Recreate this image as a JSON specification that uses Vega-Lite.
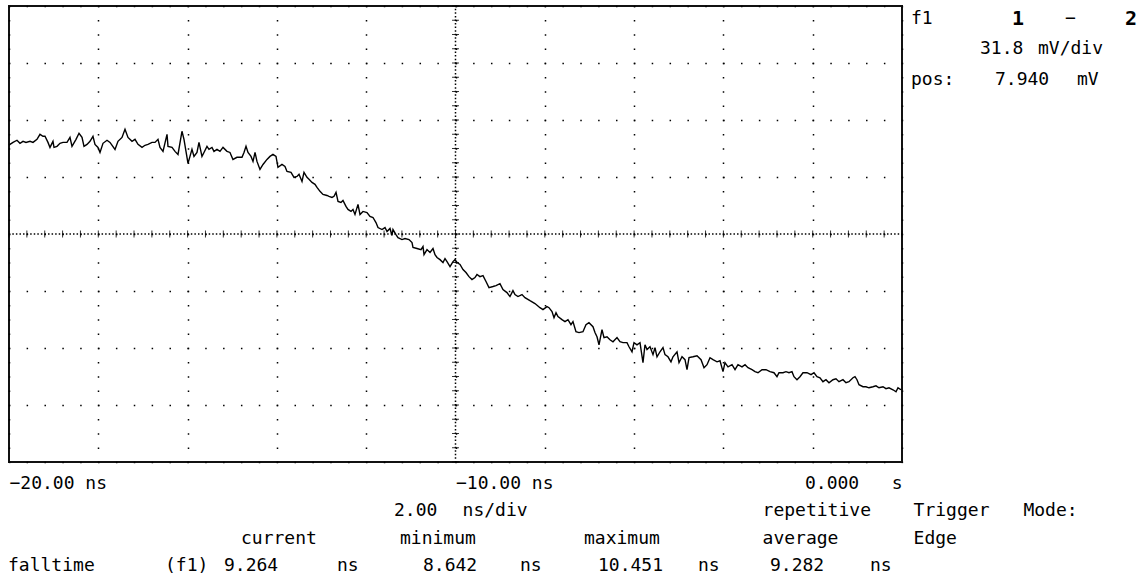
{
  "$schema": "https://vega.github.io/schema/vega-lite/v6.json",
  "width": 893,
  "height": 456,
  "autosize": {"type": "none"},
  "padding": {"left": 9, "top": 6, "right": 241, "bottom": 117},
  "background": "white",
  "config": {"view": {"stroke": "#111", "strokeWidth": 2}},
  "datasets": {
    "trace": [
      {"t": -20.0, "v": 49.5}, {"t": -19.978, "v": 50.0}, {"t": -19.91, "v": 51.1}, {"t": -19.821, "v": 52.3}, {"t": -19.754, "v": 50.6}, {"t": -19.686, "v": 51.7}, {"t": -19.619, "v": 51.1}, {"t": -19.53, "v": 51.7}, {"t": -19.462, "v": 51.1}, {"t": -19.373, "v": 52.8}, {"t": -19.306, "v": 55.6}, {"t": -19.239, "v": 54.5}, {"t": -19.194, "v": 54.5}, {"t": -19.127, "v": 51.1}, {"t": -19.082, "v": 48.3}, {"t": -19.015, "v": 51.7}, {"t": -18.992, "v": 48.3}, {"t": -18.925, "v": 48.9}, {"t": -18.858, "v": 50.6}, {"t": -18.791, "v": 51.1}, {"t": -18.701, "v": 51.1}, {"t": -18.634, "v": 53.9}, {"t": -18.589, "v": 48.9}, {"t": -18.499, "v": 52.8}, {"t": -18.432, "v": 56.2}, {"t": -18.365, "v": 53.9}, {"t": -18.32, "v": 48.9}, {"t": -18.253, "v": 50.0}, {"t": -18.186, "v": 51.7}, {"t": -18.119, "v": 54.5}, {"t": -18.074, "v": 50.0}, {"t": -18.007, "v": 48.3}, {"t": -17.962, "v": 45.5}, {"t": -17.895, "v": 50.6}, {"t": -17.805, "v": 52.3}, {"t": -17.738, "v": 51.1}, {"t": -17.626, "v": 47.2}, {"t": -17.559, "v": 51.7}, {"t": -17.469, "v": 53.9}, {"t": -17.402, "v": 58.4}, {"t": -17.335, "v": 53.9}, {"t": -17.245, "v": 51.7}, {"t": -17.178, "v": 52.8}, {"t": -17.111, "v": 50.0}, {"t": -17.021, "v": 48.3}, {"t": -16.954, "v": 49.5}, {"t": -16.887, "v": 50.0}, {"t": -16.797, "v": 51.1}, {"t": -16.73, "v": 51.1}, {"t": -16.663, "v": 52.8}, {"t": -16.618, "v": 48.3}, {"t": -16.551, "v": 46.1}, {"t": -16.461, "v": 55.6}, {"t": -16.439, "v": 48.9}, {"t": -16.349, "v": 48.3}, {"t": -16.282, "v": 46.1}, {"t": -16.215, "v": 44.4}, {"t": -16.126, "v": 57.3}, {"t": -16.081, "v": 52.8}, {"t": -16.036, "v": 46.1}, {"t": -15.991, "v": 39.4}, {"t": -15.902, "v": 47.2}, {"t": -15.857, "v": 43.3}, {"t": -15.79, "v": 45.5}, {"t": -15.745, "v": 51.1}, {"t": -15.678, "v": 43.3}, {"t": -15.633, "v": 45.5}, {"t": -15.566, "v": 48.9}, {"t": -15.521, "v": 47.2}, {"t": -15.454, "v": 48.3}, {"t": -15.409, "v": 46.1}, {"t": -15.342, "v": 47.2}, {"t": -15.275, "v": 46.1}, {"t": -15.207, "v": 48.3}, {"t": -15.118, "v": 46.1}, {"t": -15.051, "v": 45.5}, {"t": -14.984, "v": 41.6}, {"t": -14.894, "v": 42.8}, {"t": -14.782, "v": 42.8}, {"t": -14.737, "v": 45.5}, {"t": -14.692, "v": 48.9}, {"t": -14.647, "v": 45.5}, {"t": -14.58, "v": 43.3}, {"t": -14.535, "v": 40.5}, {"t": -14.49, "v": 45.5}, {"t": -14.446, "v": 40.5}, {"t": -14.379, "v": 36.0}, {"t": -14.311, "v": 38.8}, {"t": -14.222, "v": 41.6}, {"t": -14.155, "v": 43.3}, {"t": -14.088, "v": 44.4}, {"t": -14.02, "v": 43.3}, {"t": -13.976, "v": 37.2}, {"t": -13.886, "v": 38.8}, {"t": -13.819, "v": 37.7}, {"t": -13.774, "v": 34.9}, {"t": -13.684, "v": 34.4}, {"t": -13.617, "v": 31.6}, {"t": -13.55, "v": 32.1}, {"t": -13.505, "v": 33.3}, {"t": -13.438, "v": 29.3}, {"t": -13.393, "v": 34.4}, {"t": -13.326, "v": 31.6}, {"t": -13.281, "v": 30.5}, {"t": -13.214, "v": 28.8}, {"t": -13.147, "v": 27.7}, {"t": -13.102, "v": 26.0}, {"t": -13.035, "v": 23.8}, {"t": -12.968, "v": 22.1}, {"t": -12.878, "v": 21.5}, {"t": -12.833, "v": 21.0}, {"t": -12.766, "v": 20.4}, {"t": -12.721, "v": 21.0}, {"t": -12.676, "v": 23.2}, {"t": -12.631, "v": 18.2}, {"t": -12.565, "v": 17.6}, {"t": -12.52, "v": 18.7}, {"t": -12.453, "v": 15.4}, {"t": -12.408, "v": 13.7}, {"t": -12.341, "v": 12.6}, {"t": -12.296, "v": 13.7}, {"t": -12.251, "v": 10.9}, {"t": -12.184, "v": 16.5}, {"t": -12.139, "v": 10.9}, {"t": -12.072, "v": 12.6}, {"t": -11.982, "v": 12.0}, {"t": -11.915, "v": 9.8}, {"t": -11.848, "v": 9.2}, {"t": -11.781, "v": 6.4}, {"t": -11.736, "v": 3.6}, {"t": -11.646, "v": 2.5}, {"t": -11.579, "v": 3.6}, {"t": -11.534, "v": 1.4}, {"t": -11.467, "v": 3.1}, {"t": -11.422, "v": -0.8}, {"t": -11.4, "v": 2.5}, {"t": -11.333, "v": -0.3}, {"t": -11.288, "v": -2.0}, {"t": -11.198, "v": -3.1}, {"t": -11.131, "v": -2.5}, {"t": -11.041, "v": -3.1}, {"t": -10.974, "v": -4.8}, {"t": -10.952, "v": -7.5}, {"t": -10.862, "v": -8.1}, {"t": -10.773, "v": -8.7}, {"t": -10.728, "v": -7.0}, {"t": -10.705, "v": -11.5}, {"t": -10.638, "v": -8.7}, {"t": -10.571, "v": -10.3}, {"t": -10.504, "v": -8.1}, {"t": -10.459, "v": -11.5}, {"t": -10.414, "v": -13.1}, {"t": -10.347, "v": -14.3}, {"t": -10.28, "v": -15.9}, {"t": -10.235, "v": -13.7}, {"t": -10.19, "v": -15.4}, {"t": -10.123, "v": -18.2}, {"t": -10.056, "v": -15.4}, {"t": -10.011, "v": -14.3}, {"t": -9.966, "v": -15.9}, {"t": -9.899, "v": -17.0}, {"t": -9.832, "v": -19.8}, {"t": -9.765, "v": -21.5}, {"t": -9.698, "v": -23.8}, {"t": -9.631, "v": -25.4}, {"t": -9.564, "v": -24.3}, {"t": -9.519, "v": -22.6}, {"t": -9.452, "v": -23.8}, {"t": -9.384, "v": -23.2}, {"t": -9.317, "v": -26.5}, {"t": -9.25, "v": -29.9}, {"t": -9.16, "v": -29.3}, {"t": -9.093, "v": -28.8}, {"t": -9.004, "v": -27.7}, {"t": -8.937, "v": -31.0}, {"t": -8.847, "v": -32.7}, {"t": -8.78, "v": -34.9}, {"t": -8.713, "v": -31.6}, {"t": -8.668, "v": -33.8}, {"t": -8.601, "v": -34.9}, {"t": -8.511, "v": -33.8}, {"t": -8.444, "v": -35.5}, {"t": -8.332, "v": -37.2}, {"t": -8.22, "v": -38.8}, {"t": -8.108, "v": -41.1}, {"t": -8.041, "v": -42.2}, {"t": -7.951, "v": -40.5}, {"t": -7.906, "v": -41.1}, {"t": -7.839, "v": -43.3}, {"t": -7.794, "v": -46.7}, {"t": -7.749, "v": -43.9}, {"t": -7.705, "v": -46.1}, {"t": -7.615, "v": -47.8}, {"t": -7.548, "v": -48.9}, {"t": -7.481, "v": -47.8}, {"t": -7.414, "v": -50.6}, {"t": -7.369, "v": -48.9}, {"t": -7.302, "v": -54.5}, {"t": -7.234, "v": -55.0}, {"t": -7.145, "v": -54.5}, {"t": -7.078, "v": -50.6}, {"t": -7.011, "v": -49.5}, {"t": -6.921, "v": -51.7}, {"t": -6.876, "v": -55.0}, {"t": -6.831, "v": -57.3}, {"t": -6.786, "v": -61.8}, {"t": -6.719, "v": -53.4}, {"t": -6.674, "v": -57.8}, {"t": -6.607, "v": -57.3}, {"t": -6.54, "v": -59.0}, {"t": -6.473, "v": -60.1}, {"t": -6.383, "v": -57.8}, {"t": -6.316, "v": -60.1}, {"t": -6.249, "v": -60.6}, {"t": -6.159, "v": -60.6}, {"t": -6.114, "v": -62.9}, {"t": -6.047, "v": -65.7}, {"t": -6.002, "v": -60.6}, {"t": -5.935, "v": -61.8}, {"t": -5.868, "v": -60.6}, {"t": -5.801, "v": -71.8}, {"t": -5.756, "v": -61.8}, {"t": -5.711, "v": -64.5}, {"t": -5.644, "v": -62.9}, {"t": -5.577, "v": -67.3}, {"t": -5.532, "v": -63.4}, {"t": -5.487, "v": -68.5}, {"t": -5.42, "v": -65.7}, {"t": -5.353, "v": -63.4}, {"t": -5.308, "v": -67.3}, {"t": -5.241, "v": -68.5}, {"t": -5.174, "v": -71.3}, {"t": -5.129, "v": -68.5}, {"t": -5.039, "v": -65.7}, {"t": -4.994, "v": -71.8}, {"t": -4.927, "v": -68.5}, {"t": -4.86, "v": -70.1}, {"t": -4.815, "v": -75.7}, {"t": -4.77, "v": -69.0}, {"t": -4.681, "v": -68.5}, {"t": -4.591, "v": -67.9}, {"t": -4.501, "v": -70.1}, {"t": -4.434, "v": -74.6}, {"t": -4.367, "v": -72.9}, {"t": -4.3, "v": -69.0}, {"t": -4.233, "v": -70.1}, {"t": -4.143, "v": -71.3}, {"t": -4.076, "v": -70.7}, {"t": -4.009, "v": -76.8}, {"t": -3.964, "v": -71.8}, {"t": -3.897, "v": -74.1}, {"t": -3.807, "v": -72.9}, {"t": -3.74, "v": -75.7}, {"t": -3.673, "v": -72.9}, {"t": -3.583, "v": -74.1}, {"t": -3.516, "v": -72.9}, {"t": -3.449, "v": -74.6}, {"t": -3.359, "v": -75.7}, {"t": -3.292, "v": -76.8}, {"t": -3.225, "v": -77.4}, {"t": -3.135, "v": -75.7}, {"t": -3.046, "v": -75.7}, {"t": -2.956, "v": -76.8}, {"t": -2.867, "v": -77.4}, {"t": -2.8, "v": -79.6}, {"t": -2.755, "v": -77.4}, {"t": -2.665, "v": -77.4}, {"t": -2.598, "v": -76.8}, {"t": -2.531, "v": -77.4}, {"t": -2.464, "v": -76.8}, {"t": -2.419, "v": -79.6}, {"t": -2.352, "v": -81.3}, {"t": -2.285, "v": -79.6}, {"t": -2.218, "v": -77.4}, {"t": -2.128, "v": -77.4}, {"t": -2.038, "v": -78.5}, {"t": -1.971, "v": -77.4}, {"t": -1.904, "v": -79.6}, {"t": -1.837, "v": -80.2}, {"t": -1.77, "v": -82.4}, {"t": -1.703, "v": -81.3}, {"t": -1.635, "v": -83.0}, {"t": -1.546, "v": -81.3}, {"t": -1.479, "v": -80.8}, {"t": -1.411, "v": -82.4}, {"t": -1.322, "v": -81.3}, {"t": -1.255, "v": -83.0}, {"t": -1.188, "v": -82.4}, {"t": -1.098, "v": -80.2}, {"t": -1.053, "v": -79.6}, {"t": -1.008, "v": -81.3}, {"t": -0.963, "v": -84.1}, {"t": -0.874, "v": -85.2}, {"t": -0.807, "v": -85.2}, {"t": -0.739, "v": -85.8}, {"t": -0.65, "v": -85.2}, {"t": -0.583, "v": -84.7}, {"t": -0.515, "v": -85.8}, {"t": -0.426, "v": -85.2}, {"t": -0.359, "v": -86.3}, {"t": -0.292, "v": -85.8}, {"t": -0.202, "v": -86.9}, {"t": -0.134, "v": -88.0}, {"t": -0.09, "v": -85.8}, {"t": -0.022, "v": -86.9}
    ],
    "centreX": [{"t": -10}],
    "centreY": [{"v": 0}],
    "ticksV": [
      {"v": -127.2}, {"v": -119.25}, {"v": -111.3}, {"v": -103.35}, {"v": -95.4}, {"v": -87.45}, {"v": -79.5}, {"v": -71.55}, {"v": -63.6}, {"v": -55.65}, {"v": -47.7}, {"v": -39.75}, {"v": -31.8}, {"v": -23.85}, {"v": -15.9}, {"v": -7.95}, {"v": 0}, {"v": 7.95}, {"v": 15.9}, {"v": 23.85}, {"v": 31.8}, {"v": 39.75}, {"v": 47.7}, {"v": 55.65}, {"v": 63.6}, {"v": 71.55}, {"v": 79.5}, {"v": 87.45}, {"v": 95.4}, {"v": 103.35}, {"v": 111.3}, {"v": 119.25}, {"v": 127.2}
    ],
    "ticksH": [
      {"t": -20}, {"t": -19.6}, {"t": -19.2}, {"t": -18.8}, {"t": -18.4}, {"t": -18}, {"t": -17.6}, {"t": -17.2}, {"t": -16.8}, {"t": -16.4}, {"t": -16}, {"t": -15.6}, {"t": -15.2}, {"t": -14.8}, {"t": -14.4}, {"t": -14}, {"t": -13.6}, {"t": -13.2}, {"t": -12.8}, {"t": -12.4}, {"t": -12}, {"t": -11.6}, {"t": -11.2}, {"t": -10.8}, {"t": -10.4}, {"t": -10}, {"t": -9.6}, {"t": -9.2}, {"t": -8.8}, {"t": -8.4}, {"t": -8}, {"t": -7.6}, {"t": -7.2}, {"t": -6.8}, {"t": -6.4}, {"t": -6}, {"t": -5.6}, {"t": -5.2}, {"t": -4.8}, {"t": -4.4}, {"t": -4}, {"t": -3.6}, {"t": -3.2}, {"t": -2.8}, {"t": -2.4}, {"t": -2}, {"t": -1.6}, {"t": -1.2}, {"t": -0.8}, {"t": -0.4}, {"t": 0}
    ],
    "labels": [
      {"label": "2.00", "t": -11.377, "v": -154.5},
      {"label": "ns/div", "t": -9.841, "v": -154.5},
      {"label": "repetitive", "t": -3.122, "v": -154.5},
      {"label": "Trigger", "t": 0.26, "v": -154.5},
      {"label": "Mode:", "t": 2.719, "v": -154.5},
      {"label": "current", "t": -14.804, "v": -170.2},
      {"label": "minimum", "t": -11.243, "v": -170.2},
      {"label": "maximum", "t": -7.122, "v": -170.2},
      {"label": "average", "t": -3.122, "v": -170.2},
      {"label": "Edge", "t": 0.26, "v": -170.2},
      {"label": "falltime", "t": -20.022, "v": -185.2},
      {"label": "(f1)", "t": -16.506, "v": -185.2},
      {"label": "9.264", "t": -15.185, "v": -185.2},
      {"label": "ns", "t": -12.654, "v": -185.2},
      {"label": "8.642", "t": -10.728, "v": -185.2},
      {"label": "ns", "t": -8.555, "v": -185.2},
      {"label": "10.451", "t": -6.809, "v": -185.2},
      {"label": "ns", "t": -4.569, "v": -185.2},
      {"label": "9.282", "t": -2.956, "v": -185.2},
      {"label": "ns", "t": -0.717, "v": -185.2},
      {"label": "f1", "t": 0.202, "v": 120.2},
      {"label": "−", "t": 3.651, "v": 120.2},
      {"label": "31.8", "t": 1.747, "v": 103.2},
      {"label": "mV/div", "t": 3.046, "v": 103.2},
      {"label": "pos:", "t": 0.202, "v": 85.9},
      {"label": "7.940", "t": 2.083, "v": 85.9},
      {"label": "mV", "t": 3.919, "v": 85.9}
    ],
    "boldLabels": [
      {"label": "1", "t": 2.464, "v": 120.2},
      {"label": "2", "t": 4.994, "v": 120.2}
    ]
  },
  "layer": [
    {
      "data": {"name": "trace"},
      "mark": {"type": "line", "color": "#000", "strokeWidth": 1.3, "strokeOpacity": 0},
      "encoding": {
        "x": {
          "field": "t",
          "type": "quantitative",
          "scale": {"domain": [-20, 0], "nice": false, "zero": false},
          "axis": {
            "title": null,
            "values": [-20, -18, -16, -14, -12, -10, -8, -6, -4, -2, 0],
            "grid": true,
            "gridColor": "#000",
            "gridWidth": 1.5,
            "gridDash": [1.5, 12.75],
            "gridDashOffset": 0.75,
            "domain": false,
            "ticks": false,
            "tickSize": 0,
            "labelFont": "DejaVu Sans Mono",
            "labelFontSize": 18,
            "labelColor": "#000",
            "labelPadding": 21,
            "labelBaseline": "middle",
            "labelFlush": false,
            "labelOverlap": false,
            "labelAlign": {"condition": {"test": "datum.value == 0", "value": "right"}, "value": "left"},
            "labelExpr": "datum.value == -20 ? '−20.00 ns' : datum.value == -10 ? '−10.00 ns' : datum.value == 0 ? '0.000\u00a0\u00a0\u00a0s' : ''"
          }
        },
        "y": {
          "field": "v",
          "type": "quantitative",
          "scale": {"domain": [-127.2, 127.2], "nice": false, "zero": false},
          "axis": {
            "title": null,
            "values": [-127.2, -95.4, -63.6, -31.8, 0, 31.8, 63.6, 95.4, 127.2],
            "grid": true,
            "gridColor": "#000",
            "gridWidth": 1.5,
            "gridDash": [1.5, 16.36],
            "gridDashOffset": 0.75,
            "domain": false,
            "ticks": false,
            "labels": false
          }
        }
      }
    },
    {
      "data": {"name": "centreX"},
      "mark": {"type": "rule", "color": "#000", "strokeWidth": 1.5, "strokeDash": [1.5, 2.06], "strokeDashOffset": 0.75},
      "encoding": {"x": {"field": "t", "type": "quantitative"}}
    },
    {
      "data": {"name": "centreY"},
      "mark": {"type": "rule", "color": "#000", "strokeWidth": 1.5, "strokeDash": [1.5, 2.07], "strokeDashOffset": 0.75},
      "encoding": {"y": {"field": "v", "type": "quantitative"}}
    },
    {
      "data": {"name": "ticksV"},
      "mark": {"type": "tick", "orient": "horizontal", "size": 7, "thickness": 1, "color": "#000", "opacity": 0.8},
      "encoding": {"x": {"datum": -10, "type": "quantitative"}, "y": {"field": "v", "type": "quantitative"}}
    },
    {
      "data": {"name": "ticksH"},
      "mark": {"type": "tick", "orient": "vertical", "size": 7, "thickness": 1, "color": "#000", "opacity": 0.8},
      "encoding": {"x": {"field": "t", "type": "quantitative"}, "y": {"datum": 0, "type": "quantitative"}}
    },
    {
      "data": {"name": "trace"},
      "mark": {"type": "line", "color": "#000", "strokeWidth": 1.4},
      "encoding": {"x": {"field": "t", "type": "quantitative"}, "y": {"field": "v", "type": "quantitative"}}
    },
    {
      "data": {"name": "labels"},
      "mark": {"type": "text", "align": "left", "baseline": "middle", "font": "DejaVu Sans Mono", "fontSize": 18, "color": "#000"},
      "encoding": {"x": {"field": "t", "type": "quantitative"}, "y": {"field": "v", "type": "quantitative"}, "text": {"field": "label"}}
    },
    {
      "data": {"name": "boldLabels"},
      "mark": {"type": "text", "align": "left", "baseline": "middle", "font": "DejaVu Sans Mono", "fontSize": 20, "fontWeight": "bold", "color": "#000"},
      "encoding": {"x": {"field": "t", "type": "quantitative"}, "y": {"field": "v", "type": "quantitative"}, "text": {"field": "label"}}
    }
  ]
}
